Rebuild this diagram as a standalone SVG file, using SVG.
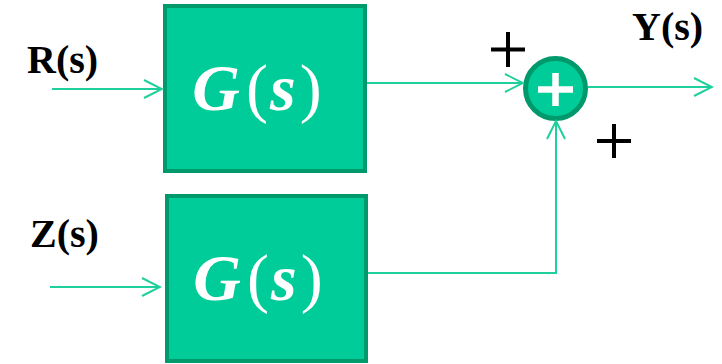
<svg xmlns="http://www.w3.org/2000/svg" width="722" height="364" viewBox="0 0 722 364">
<style>
.blk{fill:#00CC99;stroke:#00996B;stroke-width:4}
.gt{font-family:"Liberation Serif",serif;font-size:66px;fill:#fff}
.gt .it{font-style:italic;font-weight:bold}
.lbl{font-family:"Liberation Serif",serif;font-weight:bold;font-size:40px;fill:#000}
.ln{fill:none;stroke:#1FCF9C;stroke-width:2}
.sgn{stroke:#000;stroke-width:4;fill:none}
</style>
<defs>
<marker id="ah" markerWidth="22" markerHeight="22" refX="20" refY="11" orient="auto" markerUnits="userSpaceOnUse">
<path d="M2,2 L20,11 L2,20" fill="none" stroke="#1FCF9C" stroke-width="2"/>
</marker>
</defs>
<g id="labels">
<text class="lbl" x="27" y="73">R(s)</text>
<text class="lbl" x="30" y="247">Z(s)</text>
<text class="lbl" x="632" y="40">Y(s)</text>
</g>
<g id="G1">
<rect class="blk" x="165" y="6" width="200" height="165"/>
<text class="gt" x="257" y="110" text-anchor="middle"><tspan class="it">G</tspan><tspan dx="6">(</tspan><tspan class="it" dx="2">s</tspan><tspan dx="4">)</tspan></text>
</g>
<g id="G2">
<rect class="blk" x="167" y="196" width="199" height="165"/>
<text class="gt" x="258" y="300" text-anchor="middle"><tspan class="it">G</tspan><tspan dx="6">(</tspan><tspan class="it" dx="2">s</tspan><tspan dx="4">)</tspan></text>
</g>
<g id="sum">
<circle cx="555.5" cy="88.5" r="30" fill="#00CC99" stroke="#00996B" stroke-width="5"/>
<path d="M538,89.5 H573 M555.5,73 V106" stroke="#fff" stroke-width="6.5" fill="none"/>
</g>
<g id="signs">
<path class="sgn" d="M491,49.5 H525 M508,32 V67"/>
<path class="sgn" d="M597,141 H631 M614,124 V158"/>
</g>
<g id="connectors">
<path class="ln" d="M52,89 H162" marker-end="url(#ah)"/>
<path class="ln" d="M50,287 H160" marker-end="url(#ah)"/>
<path class="ln" d="M367,83 H523" marker-end="url(#ah)"/>
<path class="ln" d="M588,87 H712" marker-end="url(#ah)"/>
<path class="ln" d="M368,273 H556 V121" marker-end="url(#ah)"/>
</g>
</svg>
